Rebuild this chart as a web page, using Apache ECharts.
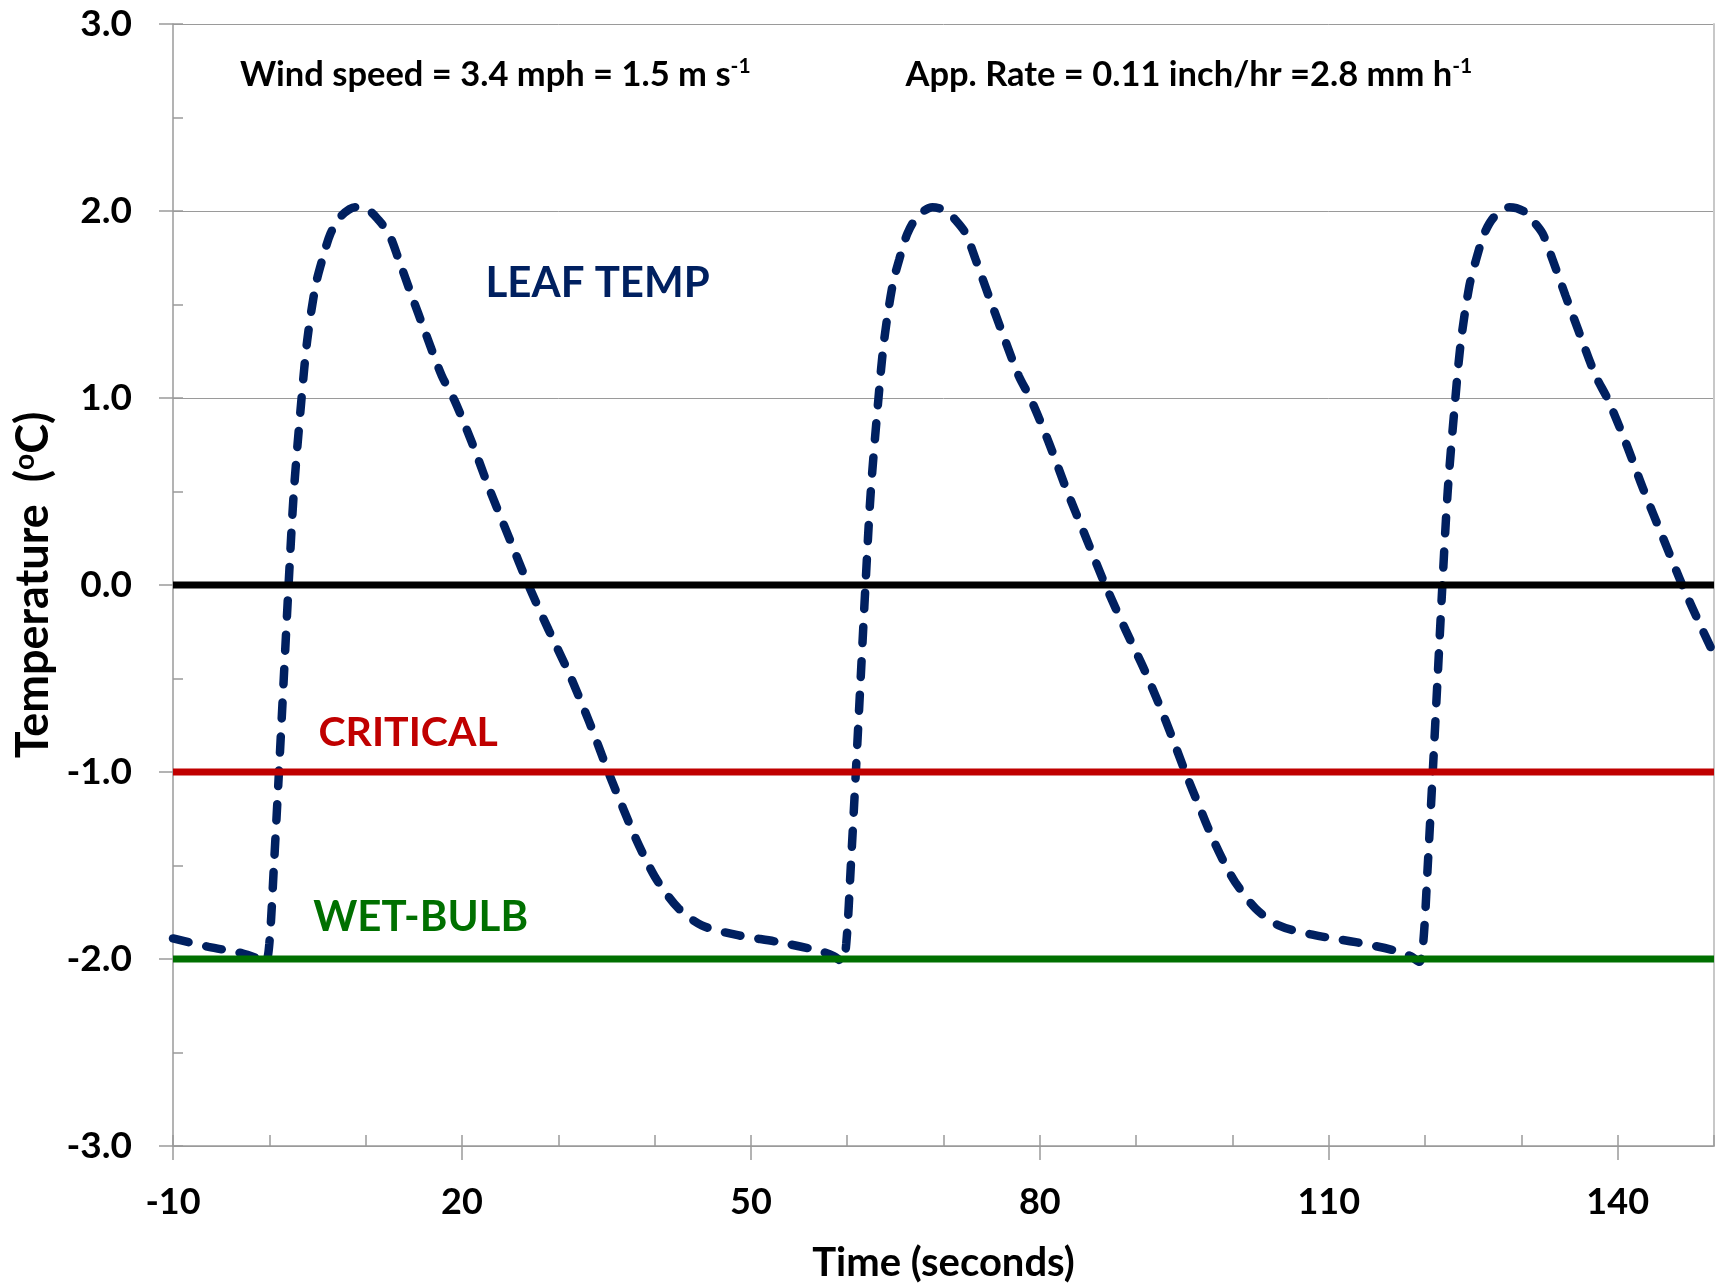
<!DOCTYPE html>
<html><head><meta charset="utf-8">
<script src="https://cdn.jsdelivr.net/npm/echarts@6/dist/echarts.min.js"></script>
<style>html,body{margin:0;padding:0;background:#fff}#chart{width:1715px;height:1285px}</style>
</head><body><div id="chart"></div>
<script>
// ---- data ----
const timeSec = [
  -10, -6.3, -2.8, -1.1,
  -0.4, 0.0, 0.48, 1.0, 1.5, 2.0, 2.55, 3.35, 3.94, 4.8, 5.5, 6.36, 7.4, 8.95, 10.4, 11.37, 12.4, 13.44, 14.8, 16.2, 17.9, 19.2, 21.05, 22.8, 25.0, 26.9, 29.0, 31.1, 33.2, 35.2, 36.7, 38.0, 39.3, 40.4, 42.5, 44.9, 48.4, 52.9, 57.0, 58.6,
  59.5, 59.9, 60.38, 60.9, 61.4, 61.9, 62.45, 63.25, 63.84, 64.7, 65.4, 66.26, 67.3, 68.85, 70.3, 71.27, 72.3, 73.34, 74.7, 76.1, 77.8, 79.1, 80.95, 82.7, 84.9, 86.8, 88.9, 91.0, 93.1, 95.1, 96.6, 97.9, 99.2, 100.3, 102.4, 104.8, 108.3, 112.8, 116.9, 118.5,
  119.4, 119.8, 120.28, 120.8, 121.3, 121.8, 122.35, 123.15, 123.74, 124.6, 125.3, 126.16, 127.2, 128.75, 130.2, 131.17, 132.2, 133.24, 134.6, 136.0, 137.7, 139.0, 140.85, 142.6, 144.8, 146.7, 148.8, 150
];
const leafTempC = [
  -1.89, -1.935, -1.97, -2.0,
  -2.015, -1.92, -1.5, -1.0, -0.5, 0.0, 0.5, 1.0, 1.31, 1.6, 1.74, 1.88, 1.97, 2.02, 2.0, 1.95, 1.88, 1.74, 1.545, 1.35, 1.12, 0.99, 0.76, 0.52, 0.24, 0.0, -0.24, -0.47, -0.73, -1.0, -1.19, -1.35, -1.49, -1.59, -1.73, -1.82, -1.87, -1.91, -1.955, -1.985,
  -2.015, -1.92, -1.5, -1.0, -0.5, 0.0, 0.5, 1.0, 1.31, 1.6, 1.74, 1.88, 1.97, 2.02, 2.0, 1.95, 1.88, 1.74, 1.545, 1.35, 1.12, 0.99, 0.76, 0.52, 0.24, 0.0, -0.24, -0.47, -0.73, -1.0, -1.19, -1.35, -1.49, -1.59, -1.73, -1.82, -1.87, -1.91, -1.955, -1.985,
  -2.015, -1.92, -1.5, -1.0, -0.5, 0.0, 0.5, 1.0, 1.31, 1.6, 1.74, 1.88, 1.97, 2.02, 2.0, 1.95, 1.88, 1.74, 1.545, 1.35, 1.12, 0.99, 0.76, 0.52, 0.24, 0.0, -0.24, -0.37
];
const timeRange = [-10, 150];
const freezingTempC = 0;
const criticalTempC = -1;
const wetBulbTempC = -2;
const xMajorTicks = [-10, 20, 50, 80, 110, 140];
const yRange = [-3, 3];

const annotationText = [
  'Wind speed = 3.4 mph = 1.5 m s{sup|-1}',
  'App. Rate = 0.11 inch/hr =2.8 mm h{sup|-1}',
  'LEAF TEMP',
  'CRITICAL',
  'WET-BULB'
];
const annotationTime = [-3.1, 66.0, 22.4, 5.05, 4.5];
const annotationTemp = [2.73, 2.73, 1.61, -0.79, -1.78];
const annotationColor = ['#000000', '#000000', '#002060', '#C00000', '#007000'];
const annotationSize = [34.5, 34.5, 42, 41, 42];

// ---- chart ----
const FONT = 'Lato';
const GRAY = '#9a9a9a';
const chart = echarts.init(document.getElementById('chart'), null, {renderer: 'canvas'});

const hLine = (val, color) => ({
  type: 'line', xAxisIndex: 0, yAxisIndex: 0, z: 4, silent: true,
  data: timeRange.map(t => [t, val]), symbol: 'none',
  lineStyle: {color: color, width: 7}
});

chart.setOption({
  animation: false,
  backgroundColor: '#ffffff',
  grid: {left: 173, right: 1, top: 24, bottom: 139, containLabel: false, outerBoundsMode: 'none'},
  xAxis: [
    {
      type: 'value', position: 'bottom', min: timeRange[0], max: timeRange[1], interval: 10,
      name: 'Time (seconds)', nameLocation: 'middle', nameGap: 97,
      nameTextStyle: {fontFamily: FONT, fontWeight: 'bold', fontSize: 40, color: '#000'},
      axisLine: {show: true, onZero: false, lineStyle: {color: GRAY, width: 1.5}},
      axisTick: {show: true, inside: true, length: 11, lineStyle: {color: GRAY, width: 1.5}},
      axisLabel: {
        show: true, margin: 38, customValues: xMajorTicks,
        fontFamily: FONT, fontWeight: 'bold', fontSize: 36, color: '#000',
        formatter: v => (xMajorTicks.indexOf(v) >= 0 ? String(v) : '')
      },
      splitLine: {show: false}
    },
    {
      type: 'value', position: 'bottom', min: timeRange[0], max: timeRange[1], interval: 10,
      axisLine: {show: false, onZero: false},
      axisTick: {show: true, inside: false, length: 14, customValues: xMajorTicks, lineStyle: {color: GRAY, width: 1.5}},
      axisLabel: {show: false},
      splitLine: {show: false}
    }
  ],
  yAxis: [
    {
      type: 'value', position: 'left', min: yRange[0], max: yRange[1], interval: 1,
      name: 'Temperature  ({sup|o}C)', nameLocation: 'middle', nameGap: 116, nameRotate: 90,
      nameTextStyle: {
        fontFamily: FONT, fontWeight: 'bold', fontSize: 45, color: '#000',
        rich: {sup: {fontFamily: FONT, fontWeight: 'bold', fontSize: 28, verticalAlign: 'top', color: '#000'}}
      },
      axisLine: {show: true, onZero: false, lineStyle: {color: GRAY, width: 1.5}},
      axisTick: {show: true, inside: false, length: 14, lineStyle: {color: GRAY, width: 1.5}},
      axisLabel: {show: true, margin: 41, fontFamily: FONT, fontWeight: 'bold', fontSize: 37, color: '#000',
        formatter: v => v.toFixed(1)},
      splitLine: {show: true, lineStyle: {color: GRAY, width: 1}}
    },
    {
      type: 'value', position: 'left', min: yRange[0], max: yRange[1], interval: 0.5,
      axisLine: {show: false, onZero: false},
      axisTick: {show: true, inside: true, length: 10, lineStyle: {color: GRAY, width: 1.5}},
      axisLabel: {show: false},
      splitLine: {show: false}
    },
    {
      type: 'value', position: 'right', min: yRange[0], max: yRange[1], interval: 1,
      axisLine: {show: true, onZero: false, lineStyle: {color: '#c8c8c8', width: 2}},
      axisTick: {show: false}, axisLabel: {show: false}, splitLine: {show: false}
    }
  ],
  series: [
    {
      type: 'line', name: 'Leaf temp', xAxisIndex: 0, yAxisIndex: 0, z: 3,
      data: timeSec.map((t, i) => [t, leafTempC[i]]),
      symbol: 'none', showSymbol: false, smooth: 0.3,
      lineStyle: {color: '#002060', width: 8.5, type: [16, 18], cap: 'round'}
    },
    hLine(freezingTempC, '#000000'),
    hLine(criticalTempC, '#C00000'),
    hLine(wetBulbTempC, '#007000'),
    {
      type: 'scatter', xAxisIndex: 0, yAxisIndex: 0, z: 5, silent: true,
      symbolSize: 1, itemStyle: {color: 'rgba(0,0,0,0)', opacity: 1},
      data: annotationText.map((txt, i) => ({
        value: [annotationTime[i], annotationTemp[i]],
        label: {
          show: true, position: 'right', distance: 0, formatter: txt, opacity: 1,
          fontFamily: FONT, fontWeight: 'bold', fontSize: annotationSize[i], color: annotationColor[i],
          lineHeight: annotationSize[i] + 4,
          rich: {sup: {fontFamily: FONT, fontWeight: 'bold', fontSize: 21, verticalAlign: 'top', color: annotationColor[i]}}
        }
      }))
    }
  ]
});
</script></body></html>
